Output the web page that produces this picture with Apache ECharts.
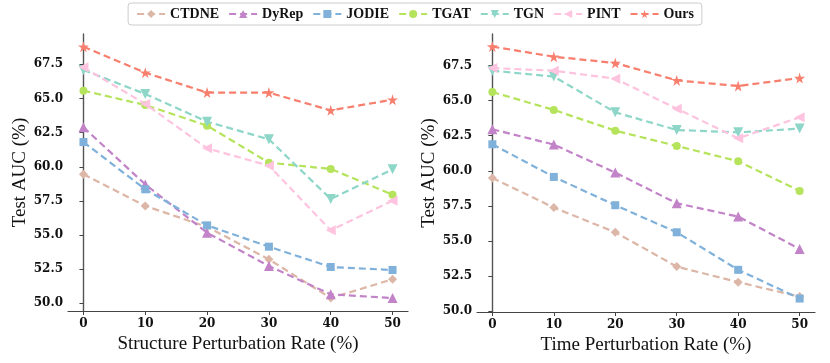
<!DOCTYPE html>
<html>
<head>
<meta charset="UTF-8">
<script src="https://cdn.jsdelivr.net/npm/echarts@6/dist/echarts.min.js"></script>
<style>
  html, body { margin: 0; padding: 0; background: #fff; }
  #chart { width: 830px; height: 363px; }
</style>
</head>
<body>
<div id="chart"></div>
<script>
// perturbation rates (%)
const rates = [0, 10, 20, 30, 40, 50];
const methods = ['CTDNE', 'DyRep', 'JODIE', 'TGAT', 'TGN', 'PINT', 'Ours'];
const yTicks = [50, 52.5, 55, 57.5, 60, 62.5, 65, 67.5];

// structure perturbation (left panel)
const structCTDNE = [59.45, 57.13, 55.6, 53.22, 50.39, 51.76];
const structDyRep = [62.89, 58.71, 55.17, 52.73, 50.66, 50.39];
const structJODIE = [61.81, 58.35, 55.71, 54.15, 52.66, 52.44];
const structTGAT  = [65.57, 64.52, 63.01, 60.30, 59.84, 57.96];
const structTGN   = [67.09, 65.33, 63.30, 62.01, 57.64, 59.81];
const structPINT  = [67.28, 64.60, 61.35, 60.08, 55.35, 57.52];
const structOurs  = [68.79, 66.89, 65.43, 65.43, 64.13, 64.91];

// time perturbation (right panel)
const timeCTDNE = [59.49, 57.37, 55.61, 53.16, 52.05, 51.02];
const timeDyRep = [62.96, 61.87, 59.87, 57.68, 56.73, 54.42];
const timeJODIE = [61.89, 59.56, 57.54, 55.61, 52.93, 50.88];
const timeTGAT  = [65.62, 64.34, 62.86, 61.77, 60.68, 58.56];
const timeTGN   = [67.14, 66.72, 64.17, 62.91, 62.74, 63.01];
const timePINT  = [67.33, 67.14, 66.57, 64.43, 62.32, 63.81];
const timeOurs  = [68.86, 68.14, 67.69, 66.45, 66.05, 66.62];

const colors = ['#dcb6a6', '#c283c8', '#7fb1da', '#b5e35b', '#8dd6c8', '#fdc3df', '#f87e6e'];
const star = 'path://M50,0 L61,35 L98,35 L68,57 L79,91 L50,70 L21,91 L32,57 L2,35 L39,35 Z';
const symbols = ['diamond', 'triangle', 'rect', 'circle', 'triangle', 'triangle', star];
const rotations = [0, 0, 0, 0, 180, 90, 0];
const sizes = [9, 10, 8, 8, 10, 10, 11];

const structData = [structCTDNE, structDyRep, structJODIE, structTGAT, structTGN, structPINT, structOurs];
const timeData = [timeCTDNE, timeDyRep, timeJODIE, timeTGAT, timeTGN, timePINT, timeOurs];

const serif = 'Liberation Serif';
const tickFont = { fontFamily: 'DejaVu Serif', fontWeight: 'bold', fontSize: 12, color: '#111' };

function xAxis(idx, name) {
  return {
    type: 'value', gridIndex: idx, min: -2.5, max: 52.5,
    name: name, nameLocation: 'middle', nameGap: 22,
    nameTextStyle: { fontFamily: serif, fontSize: 19, color: '#111' },
    axisLine: { lineStyle: { color: '#444', width: 1.2 } },
    axisTick: { customValues: rates, length: 4, lineStyle: { color: '#444' } },
    axisLabel: Object.assign({ customValues: rates, margin: 7 }, tickFont),
    splitLine: { show: false }
  };
}
function yAxis(idx, min, max) {
  return {
    type: 'value', gridIndex: idx, min: min, max: max,
    name: 'Test AUC (%)', nameLocation: 'middle', nameGap: 36,
    nameTextStyle: { fontFamily: serif, fontSize: 19, color: '#111' },
    axisLine: { show: true, lineStyle: { color: '#555', width: 1.4 } },
    axisTick: { show: true, customValues: yTicks, length: 4, lineStyle: { color: '#444' } },
    axisLabel: Object.assign({ customValues: yTicks, margin: 5, formatter: v => v.toFixed(1) }, tickFont),
    splitLine: { show: false }
  };
}

const series = [];
[structData, timeData].forEach((set, g) => {
  set.forEach((vals, i) => {
    series.push({
      name: methods[i], type: 'line', xAxisIndex: g, yAxisIndex: g,
      data: vals.map((v, k) => [rates[k], v]),
      symbol: symbols[i], symbolRotate: rotations[i], symbolSize: sizes[i],
      itemStyle: { color: colors[i] },
      lineStyle: { color: colors[i], width: 2.2, type: [7, 4] },
      z: 2 + i
    });
  });
});

const chart = echarts.init(document.getElementById('chart'), null, { renderer: 'canvas' });
chart.setOption({
  animation: false,
  backgroundColor: '#fff',
  legend: {
    data: methods, top: 3, left: 'center',
    itemWidth: 28, itemHeight: 10, itemGap: 9,
    padding: [4, 8], borderColor: '#ccc', borderWidth: 1, borderRadius: 3,
    textStyle: { fontFamily: serif, fontWeight: 'bold', fontSize: 14, color: '#111' }
  },
  grid: [
    { left: 68, top: 34, width: 340, height: 277 },
    { left: 477, top: 34, width: 338, height: 278 }
  ],
  xAxis: [xAxis(0, 'Structure Perturbation Rate (%)'), xAxis(1, 'Time Perturbation Rate (%)')],
  yAxis: [yAxis(0, 49.44, 69.72), yAxis(1, 49.92, 69.76)],
  series: series
});
</script>
</body>
</html>
